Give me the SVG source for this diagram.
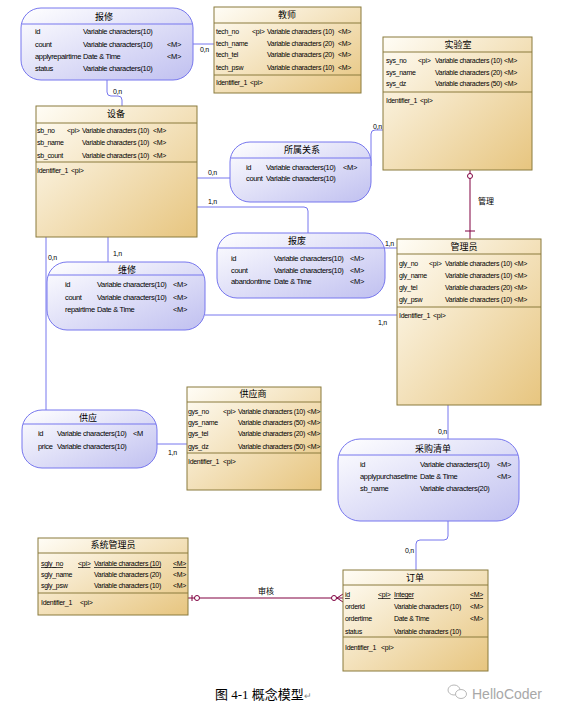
<svg xmlns="http://www.w3.org/2000/svg" width="562" height="714" viewBox="0 0 562 714">
  <defs>
    <linearGradient id="gEnt" x1="0" y1="0" x2="1" y2="1">
      <stop offset="0" stop-color="#fffdf6"/>
      <stop offset="1" stop-color="#e7c57f"/>
    </linearGradient>
    <linearGradient id="gRel" x1="0" y1="0" x2="1" y2="1">
      <stop offset="0" stop-color="#ffffff"/>
      <stop offset="1" stop-color="#c0c0f0"/>
    </linearGradient>
  </defs>
  <style>
    .ent { fill: url(#gEnt); stroke: #8a7b3c; stroke-width: 1; }
    .rel { fill: url(#gRel); stroke: #7777ee; stroke-width: 1; }
    .esep { stroke: #8a7b3c; stroke-width: 1; }
    .rsep { stroke: #7777ee; stroke-width: 1; }
    .ttl { font-family: "Noto Sans CJK SC", "Noto Sans CJK JP", sans-serif; font-size: 9px; text-anchor: middle; fill: #000; }
    .et { font-family: "Liberation Sans", Arial, sans-serif; font-size: 7px; letter-spacing: -0.3px; fill: #000; }
    .rt { font-family: "Liberation Sans", Arial, sans-serif; font-size: 7.5px; letter-spacing: -0.35px; fill: #000; }
    .u { text-decoration: underline; }
    .lnk { fill: none; stroke: #7777ee; stroke-width: 1; }
    .red { fill: none; stroke: #800040; stroke-width: 1; }
    .card { font-family: "Liberation Sans", Arial, sans-serif; font-size: 7px; letter-spacing: -0.3px; fill: #000; }
    .rlab { font-family: "Noto Sans CJK SC", sans-serif; font-size: 8px; fill: #000; }
  </style>
  <rect width="562" height="714" fill="#ffffff"/>

  <!-- connectors -->
  <g id="connectors">
    <path class="lnk" d="M193,44 H214"/>
    <text class="card" x="200" y="52">0,n</text>
    <path class="lnk" d="M107,80 V92 Q107,96 111,96 H118 Q122,96 122,100 V106"/>
    <text class="card" x="113" y="94">0,n</text>
    <path class="lnk" d="M197,178 H230"/>
    <text class="card" x="208" y="175">0,n</text>
    <path class="lnk" d="M371,166 V134 Q371,130 375,130 H383"/>
    <text class="card" x="373" y="129">0,n</text>
    <path class="lnk" d="M197,207 H304 Q308,207 308,211 V233"/>
    <text class="card" x="208" y="204">1,n</text>
    <path class="lnk" d="M382,248 H397"/>
    <text class="card" x="385" y="246">1,n</text>
    <path class="lnk" d="M108,237 V262"/>
    <text class="card" x="113" y="256">1,n</text>
    <path class="lnk" d="M205,315 H397"/>
    <text class="card" x="378" y="325">1,n</text>
    <path class="lnk" d="M46,237 V410"/>
    <text class="card" x="48" y="260">0,n</text>
    <path class="lnk" d="M157,444 H187"/>
    <text class="card" x="168" y="455">1,n</text>
    <path class="lnk" d="M448,405 V439"/>
    <text class="card" x="438" y="434">0,n</text>
    <path class="lnk" d="M448,521 V536 Q448,540 444,540 H420 Q416,540 416,544 V570"/>
    <text class="card" x="405" y="553">0,n</text>

    <!-- 管理 -->
    <path class="red" d="M470,170 V239"/>
    <circle cx="470" cy="176" r="2.5" fill="#ffffff" stroke="#800040"/>
    <path class="red" d="M465,231 H475"/>
    <text class="rlab" x="478" y="204">管理</text>

    <!-- 审核 -->
    <path class="red" d="M188,598 H343"/>
    <path class="red" d="M192,595 V601"/>
    <circle cx="197" cy="598" r="2.5" fill="#ffffff" stroke="#800040"/>
    <circle cx="334" cy="598" r="2.5" fill="#ffffff" stroke="#800040"/>
    <path class="red" d="M337,598 L343,594 M337,598 L343,602"/>
    <text class="rlab" x="258" y="594">审核</text>
  </g>

  <!-- 报修 -->
  <g id="baoxiu">
    <rect class="rel" x="21" y="8" width="172" height="72" rx="20"/>
    <text class="ttl" x="104" y="20">报修</text>
    <line class="rsep" x1="22" y1="24" x2="192" y2="24"/>
    <text class="rt" x="35" y="34">id</text>
    <text class="rt" x="83" y="34">Variable characters(10)</text>
    <text class="rt" x="35" y="47">count</text>
    <text class="rt" x="83" y="47">Variable characters(10)</text>
    <text class="rt" x="167" y="47">&lt;M&gt;</text>
    <text class="rt" x="35" y="59">applyrepairtime</text>
    <text class="rt" x="83" y="59">Date &amp; Time</text>
    <text class="rt" x="167" y="59">&lt;M&gt;</text>
    <text class="rt" x="35" y="71">status</text>
    <text class="rt" x="83" y="71">Variable characters(10)</text>
  </g>

  <!-- 教师 -->
  <g id="jiaoshi">
    <rect class="ent" x="214" y="7" width="147" height="86"/>
    <text class="ttl" x="287" y="18">教师</text>
    <line class="esep" x1="214" y1="23" x2="361" y2="23"/>
    <text class="et" x="216" y="34">tech_no</text>
    <text class="et" x="252" y="34">&lt;pi&gt;</text>
    <text class="et" x="267" y="34">Variable characters (10)</text>
    <text class="et" x="338" y="34">&lt;M&gt;</text>
    <text class="et" x="216" y="46">tech_name</text>
    <text class="et" x="267" y="46">Variable characters (20)</text>
    <text class="et" x="338" y="46">&lt;M&gt;</text>
    <text class="et" x="216" y="57">tech_tel</text>
    <text class="et" x="267" y="57">Variable characters (20)</text>
    <text class="et" x="338" y="57">&lt;M&gt;</text>
    <text class="et" x="216" y="70">tech_psw</text>
    <text class="et" x="267" y="70">Variable characters (10)</text>
    <text class="et" x="338" y="70">&lt;M&gt;</text>
    <line class="esep" x1="214" y1="75" x2="361" y2="75"/>
    <text class="et" x="216" y="85">Identifier_1</text>
    <text class="et" x="250" y="85">&lt;pi&gt;</text>
  </g>

  <!-- 实验室 -->
  <g id="shiyanshi">
    <rect class="ent" x="383" y="37" width="149" height="133"/>
    <text class="ttl" x="458" y="48">实验室</text>
    <line class="esep" x1="383" y1="52" x2="532" y2="52"/>
    <text class="et" x="386" y="63">sys_no</text>
    <text class="et" x="418" y="63">&lt;pi&gt;</text>
    <text class="et" x="435" y="63">Variable characters (10)</text>
    <text class="et" x="504" y="63">&lt;M&gt;</text>
    <text class="et" x="386" y="75">sys_name</text>
    <text class="et" x="435" y="75">Variable characters (20)</text>
    <text class="et" x="504" y="75">&lt;M&gt;</text>
    <text class="et" x="386" y="86">sys_dz</text>
    <text class="et" x="435" y="86">Variable characters (50)</text>
    <text class="et" x="504" y="86">&lt;M&gt;</text>
    <line class="esep" x1="383" y1="92" x2="532" y2="92"/>
    <text class="et" x="386" y="103">Identifier_1</text>
    <text class="et" x="420" y="103">&lt;pi&gt;</text>
  </g>

  <!-- 设备 -->
  <g id="shebei">
    <rect class="ent" x="36" y="106" width="161" height="131"/>
    <text class="ttl" x="116" y="117">设备</text>
    <line class="esep" x1="36" y1="123" x2="197" y2="123"/>
    <text class="et" x="37" y="133">sb_no</text>
    <text class="et" x="67" y="133">&lt;pi&gt;</text>
    <text class="et" x="82" y="133">Variable characters (10)</text>
    <text class="et" x="153" y="133">&lt;M&gt;</text>
    <text class="et" x="37" y="145">sb_name</text>
    <text class="et" x="82" y="145">Variable characters (10)</text>
    <text class="et" x="153" y="145">&lt;M&gt;</text>
    <text class="et" x="37" y="158">sb_count</text>
    <text class="et" x="82" y="158">Variable characters (10)</text>
    <text class="et" x="153" y="158">&lt;M&gt;</text>
    <line class="esep" x1="36" y1="162" x2="197" y2="162"/>
    <text class="et" x="37" y="173">Identifier_1</text>
    <text class="et" x="71" y="173">&lt;pi&gt;</text>
  </g>

  <!-- 所属关系 -->
  <g id="suoshuguanxi">
    <rect class="rel" x="230" y="142" width="141" height="60" rx="20"/>
    <text class="ttl" x="302" y="153">所属关系</text>
    <line class="rsep" x1="231" y1="158" x2="370" y2="158"/>
    <text class="rt" x="246" y="170">id</text>
    <text class="rt" x="266" y="170">Variable characters(10)</text>
    <text class="rt" x="343" y="170">&lt;M&gt;</text>
    <text class="rt" x="246" y="181">count</text>
    <text class="rt" x="266" y="181">Variable characters(10)</text>
  </g>

  <!-- 报废 -->
  <g id="baofei">
    <rect class="rel" x="217" y="233" width="168" height="65" rx="20"/>
    <text class="ttl" x="297" y="244">报废</text>
    <line class="rsep" x1="218" y1="248" x2="384" y2="248"/>
    <text class="rt" x="231" y="261">id</text>
    <text class="rt" x="274" y="261">Variable characters(10)</text>
    <text class="rt" x="350" y="261">&lt;M&gt;</text>
    <text class="rt" x="231" y="273">count</text>
    <text class="rt" x="274" y="273">Variable characters(10)</text>
    <text class="rt" x="350" y="273">&lt;M&gt;</text>
    <text class="rt" x="231" y="284">abandontime</text>
    <text class="rt" x="274" y="284">Date &amp; Time</text>
    <text class="rt" x="350" y="284">&lt;M&gt;</text>
  </g>

  <!-- 管理员 -->
  <g id="guanliyuan">
    <rect class="ent" x="397" y="239" width="144" height="166"/>
    <text class="ttl" x="464" y="250">管理员</text>
    <line class="esep" x1="397" y1="254" x2="541" y2="254"/>
    <text class="et" x="399" y="266">gly_no</text>
    <text class="et" x="429" y="266">&lt;pi&gt;</text>
    <text class="et" x="445" y="266">Variable characters (10)</text>
    <text class="et" x="514" y="266">&lt;M&gt;</text>
    <text class="et" x="399" y="278">gly_name</text>
    <text class="et" x="445" y="278">Variable characters (10)</text>
    <text class="et" x="514" y="278">&lt;M&gt;</text>
    <text class="et" x="399" y="290">gly_tel</text>
    <text class="et" x="445" y="290">Variable characters (20)</text>
    <text class="et" x="514" y="290">&lt;M&gt;</text>
    <text class="et" x="399" y="302">gly_psw</text>
    <text class="et" x="445" y="302">Variable characters (10)</text>
    <text class="et" x="514" y="302">&lt;M&gt;</text>
    <line class="esep" x1="397" y1="307" x2="541" y2="307"/>
    <text class="et" x="399" y="318">Identifier_1</text>
    <text class="et" x="433" y="318">&lt;pi&gt;</text>
  </g>

  <!-- 维修 -->
  <g id="weixiu">
    <rect class="rel" x="47" y="262" width="158" height="68" rx="20"/>
    <text class="ttl" x="127" y="273">维修</text>
    <line class="rsep" x1="48" y1="275" x2="204" y2="275"/>
    <text class="rt" x="65" y="287">id</text>
    <text class="rt" x="97" y="287">Variable characters(10)</text>
    <text class="rt" x="173" y="287">&lt;M&gt;</text>
    <text class="rt" x="65" y="300">count</text>
    <text class="rt" x="97" y="300">Variable characters(10)</text>
    <text class="rt" x="173" y="300">&lt;M&gt;</text>
    <text class="rt" x="65" y="312">repairtime</text>
    <text class="rt" x="97" y="312">Date &amp; Time</text>
    <text class="rt" x="173" y="312">&lt;M&gt;</text>
  </g>

  <!-- 供应 -->
  <g id="gongying">
    <rect class="rel" x="22" y="410" width="135" height="58" rx="20"/>
    <text class="ttl" x="88" y="421">供应</text>
    <line class="rsep" x1="23" y1="424" x2="156" y2="424"/>
    <text class="rt" x="38" y="436">id</text>
    <text class="rt" x="57" y="436">Variable characters(10)</text>
    <text class="rt" x="133" y="436">&lt;M</text>
    <text class="rt" x="38" y="449">price</text>
    <text class="rt" x="57" y="449">Variable characters(10)</text>
  </g>

  <!-- 供应商 -->
  <g id="gongyingshang">
    <rect class="ent" x="187" y="387" width="134" height="103"/>
    <text class="ttl" x="253" y="397">供应商</text>
    <line class="esep" x1="187" y1="402" x2="321" y2="402"/>
    <text class="et" x="188" y="414">gys_no</text>
    <text class="et" x="223" y="414">&lt;pi&gt;</text>
    <text class="et" x="238" y="414">Variable characters (10)</text>
    <text class="et" x="307" y="414">&lt;M&gt;</text>
    <text class="et" x="188" y="425">gys_name</text>
    <text class="et" x="238" y="425">Variable characters (50)</text>
    <text class="et" x="307" y="425">&lt;M&gt;</text>
    <text class="et" x="188" y="436">gys_tel</text>
    <text class="et" x="238" y="436">Variable characters (20)</text>
    <text class="et" x="307" y="436">&lt;M&gt;</text>
    <text class="et" x="188" y="449">gys_dz</text>
    <text class="et" x="238" y="449">Variable characters (50)</text>
    <text class="et" x="307" y="449">&lt;M&gt;</text>
    <line class="esep" x1="187" y1="453" x2="321" y2="453"/>
    <text class="et" x="188" y="464">Identifier_1</text>
    <text class="et" x="223" y="464">&lt;pi&gt;</text>
  </g>

  <!-- 采购清单 -->
  <g id="caigouqingdan">
    <rect class="rel" x="338" y="439" width="181" height="82" rx="22"/>
    <text class="ttl" x="433" y="452">采购清单</text>
    <line class="rsep" x1="339" y1="455" x2="518" y2="455"/>
    <text class="rt" x="360" y="467">id</text>
    <text class="rt" x="420" y="467">Variable characters(10)</text>
    <text class="rt" x="497" y="467">&lt;M&gt;</text>
    <text class="rt" x="360" y="479">applypurchasetime</text>
    <text class="rt" x="420" y="479">Date &amp; Time</text>
    <text class="rt" x="497" y="479">&lt;M&gt;</text>
    <text class="rt" x="360" y="491">sb_name</text>
    <text class="rt" x="420" y="491">Variable characters(20)</text>
  </g>

  <!-- 系统管理员 -->
  <g id="xitongguanliyuan">
    <rect class="ent" x="38" y="538" width="150" height="77"/>
    <text class="ttl" x="113" y="548">系统管理员</text>
    <line class="esep" x1="38" y1="553" x2="188" y2="553"/>
    <text class="et u" x="41" y="566">sgly_no</text>
    <text class="et u" x="78" y="566">&lt;pi&gt;</text>
    <text class="et u" x="94" y="566">Variable characters (10)</text>
    <text class="et u" x="173" y="566">&lt;M&gt;</text>
    <text class="et" x="41" y="577">sgly_name</text>
    <text class="et" x="94" y="577">Variable characters (20)</text>
    <text class="et" x="173" y="577">&lt;M&gt;</text>
    <text class="et" x="41" y="588">sgly_psw</text>
    <text class="et" x="94" y="588">Variable characters (10)</text>
    <text class="et" x="173" y="588">&lt;M&gt;</text>
    <line class="esep" x1="38" y1="593" x2="188" y2="593"/>
    <text class="et" x="41" y="605">Identifier_1</text>
    <text class="et" x="80" y="605">&lt;pi&gt;</text>
  </g>

  <!-- 订单 -->
  <g id="dingdan">
    <rect class="ent" x="343" y="570" width="145" height="101"/>
    <text class="ttl" x="415" y="581">订单</text>
    <line class="esep" x1="343" y1="585" x2="488" y2="585"/>
    <text class="et u" x="345" y="597">id</text>
    <text class="et u" x="378" y="597">&lt;pi&gt;</text>
    <text class="et u" x="394" y="597">Integer</text>
    <text class="et u" x="470" y="597">&lt;M&gt;</text>
    <text class="et" x="345" y="609">orderid</text>
    <text class="et" x="394" y="609">Variable characters (10)</text>
    <text class="et" x="470" y="609">&lt;M&gt;</text>
    <text class="et" x="345" y="621">ordertime</text>
    <text class="et" x="394" y="621">Date &amp; Time</text>
    <text class="et" x="470" y="621">&lt;M&gt;</text>
    <text class="et" x="345" y="634">status</text>
    <text class="et" x="394" y="634">Variable characters (10)</text>
    <line class="esep" x1="343" y1="637" x2="488" y2="637"/>
    <text class="et" x="345" y="650">Identifier_1</text>
    <text class="et" x="381" y="650">&lt;pi&gt;</text>
  </g>

  <!-- caption -->
  <text x="215" y="699" font-family="'Liberation Serif', 'Noto Sans CJK SC', serif" font-size="13" fill="#000">图 4-1 概念模型<tspan font-size="9" fill="#888">↵</tspan></text>

  <!-- watermark -->
  <g id="watermark" fill="none" stroke="#b8b8b8" stroke-width="1">
    <ellipse cx="454" cy="690" rx="6" ry="5"/>
    <ellipse cx="461" cy="694" rx="5.5" ry="4.5" fill="#ffffff"/>
  </g>
  <text x="472" y="699" font-family="'Liberation Sans', Arial, sans-serif" font-size="14" fill="#a8a8a8">HelloCoder</text>
</svg>
